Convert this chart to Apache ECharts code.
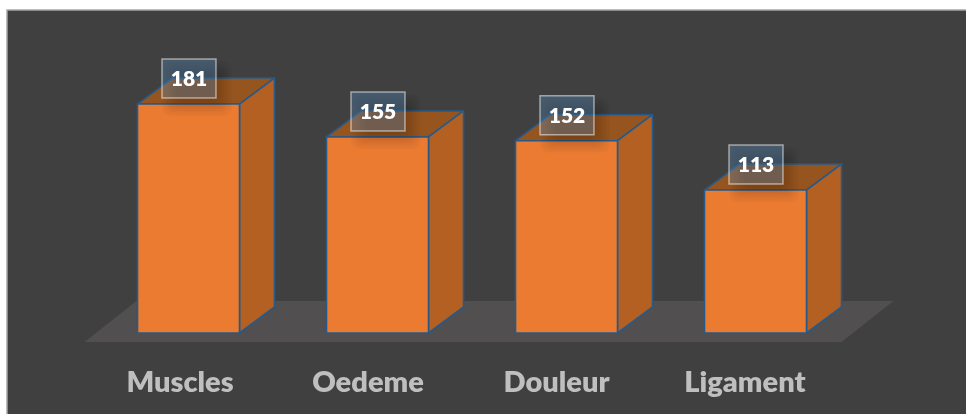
<!DOCTYPE html>
<html><head><meta charset="utf-8">
<style>html,body{margin:0;padding:0;background:#fff}#c{width:966px;height:414px}</style>
<script src="https://cdn.jsdelivr.net/npm/echarts@6/dist/echarts.min.js"></script>
</head><body><div id="c"></div>
<script>
const categories = ['Muscles', 'Oedeme', 'Douleur', 'Ligament'];
const values = [181, 155, 152, 113];

const DX = 35, DY = -26, BAR_W = 102;
const labelShift = {Muscles: -9, Oedeme: -10, Douleur: -10.5, Ligament: -11};

function poly(points, fill, stroke) {
  return {type: 'polygon', shape: {points}, style: {fill, stroke: stroke || null, lineWidth: stroke ? 1.6 : 0, lineJoin: 'round'}};
}
function renderFloor(params, api) {
  if (params.dataIndex !== 0) return null;
  const l = api.coord([0, 0]), r = api.coord([categories.length - 1, 0]), band = api.size([1, 0])[0];
  const x0 = l[0] - band / 2 - 10, x1 = r[0] + band / 2 - 9, yF = l[1] + 9, yB = l[1] - 32;
  return poly([[x0, yF], [x1, yF], [x1 + 52, yB], [x0 + 52, yB]], '#514f50');
}
function renderBar(params, api) {
  const t = api.coord([api.value(0), api.value(1)]), b = api.coord([api.value(0), 0]);
  const x0 = t[0] - BAR_W / 2 - 0.5, x1 = t[0] + BAR_W / 2 - 0.5, y0 = t[1], y1 = b[1];
  const line = '#265a8a';
  const children = [
    poly([[x0, y0], [x1, y0], [x1 + DX, y0 + DY], [x0 + DX, y0 + DY]], '#96551f', line),
    poly([[x1, y0], [x1 + DX, y0 + DY], [x1 + DX, y1 + DY], [x1, y1]], '#b46023', line),
    poly([[x0, y0], [x1, y0], [x1, y1], [x0, y1]], '#ea7b31', line)
  ];
  return {type: 'group', children};
}
function renderLabel(params, api) {
  const t = api.coord([api.value(0), api.value(1)]);
  const w = 54, h = 39, x = t[0] - w / 2, y = t[1] + DY - h / 2 + 0.5;
  const children = [];
  for (let i = 0; i < 9; i++) {
    children.push({type: 'rect', shape: {x: x + 8 - 8 + i * 1.8, y: y + 10 - 8 + i * 1.8, width: w + 16 - i * 3.6, height: h + 16 - i * 3.6, r: 8},
      style: {fill: 'rgba(0,0,0,0.018)'}});
  }
  children.push({type: 'rect', shape: {x, y, width: w, height: h},
    style: {fill: 'rgba(91,155,213,0.3)', stroke: 'rgba(255,255,255,0.5)', lineWidth: 1.5}});
  children.push({type: 'text', style: {x: t[0], y: y + h / 2 + 1, text: String(api.value(1)), align: 'center', verticalAlign: 'middle',
    fill: '#fff', font: '800 21px Lato'}});
  return {type: 'group', children};
}
const data = categories.map((c, i) => [i, values[i]]);
const rich = {};
categories.forEach((c, i) => {
  const s = labelShift[c];
  rich['l' + i] = {color: '#bfbfbf', fontFamily: 'Lato', fontWeight: 800, fontSize: 29,
    padding: [0, -2 * s, 0, 0]};
});
const chart = echarts.init(document.getElementById('c'), null, {renderer: 'canvas'});
chart.setOption({
  backgroundColor: '#fff',
  animation: false,
  graphic: [{type: 'rect', z: -10, shape: {x: 7, y: 10, width: 970, height: 420},
    style: {fill: '#404040', stroke: '#a6a6a6', lineWidth: 1.5}}],
  grid: {left: 94.5, right: 115.5, top: 80, bottom: 81, containLabel: false},
  xAxis: {type: 'category', data: categories, axisLine: {show: false}, axisTick: {show: false},
    axisLabel: {margin: 35, interval: 0, formatter: (v, i) => '{l' + i + '|' + v + '}', rich}},
  yAxis: {type: 'value', min: 0, max: 200, interval: 50, show: false, splitLine: {show: false}},
  series: [
    {type: 'custom', z: 1, data, clip: false, renderItem: renderFloor, encode: {x: 0, y: 1}, silent: true},
    {type: 'custom', z: 2, data, clip: false, renderItem: renderBar, encode: {x: 0, y: 1}},
    {type: 'custom', z: 3, data, clip: false, renderItem: renderLabel, encode: {x: 0, y: 1}}
  ]
});
</script></body></html>
